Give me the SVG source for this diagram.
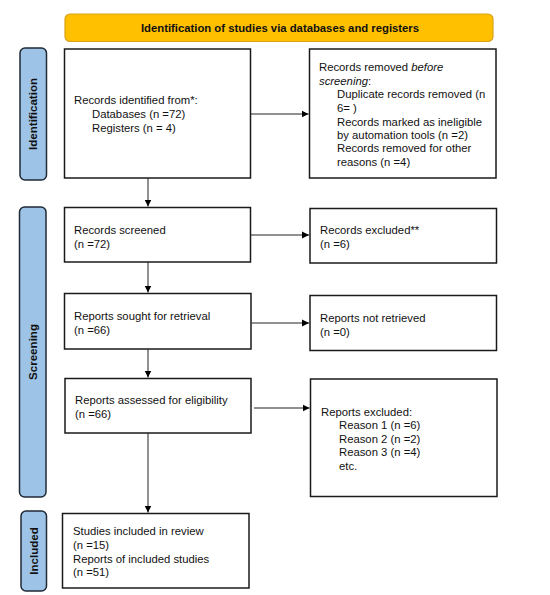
<svg xmlns="http://www.w3.org/2000/svg" width="550" height="595" viewBox="0 0 550 595">
<defs>
<marker id="ah" markerWidth="8" markerHeight="8" refX="7" refY="4" orient="auto" markerUnits="userSpaceOnUse">
<path d="M0,0.5 L7,4 L0,7.5 Z" fill="#000"/>
</marker>
<style>
.box{fill:#fff;stroke:#1a1a1a;stroke-width:1.5}
.side{fill:#9DC3E6;stroke:#1f2a36;stroke-width:1.5}
.t{font-family:"Liberation Sans",Arial,sans-serif;font-size:11.3px;fill:#111}
.sl{font-family:"Liberation Sans",Arial,sans-serif;font-size:11.3px;font-weight:bold;fill:#111}
.sv{font-family:"Liberation Sans",Arial,sans-serif;font-size:11.6px;font-weight:bold;fill:#111}
.c{stroke:#222;stroke-width:1;fill:none;marker-end:url(#ah)}
</style>
</defs>
<rect width="550" height="595" fill="#fff"/>
<g id="banner">
<rect x="65" y="14" width="428" height="27.5" rx="5" fill="#FFC000" stroke="#D9A21A" stroke-width="1.2"/>
<text class="sl" x="280" y="32" text-anchor="middle">Identification of studies via databases and registers</text>
</g>
<g id="label-identification">
<rect class="side" x="20" y="48" width="26.5" height="132" rx="5"/>
<text class="sv" transform="translate(37,114) rotate(-90)" text-anchor="middle">Identification</text>
</g>
<g id="label-screening">
<rect class="side" x="19.5" y="207" width="26.5" height="290" rx="5"/>
<text class="sv" transform="translate(37,352) rotate(-90)" text-anchor="middle">Screening</text>
</g>
<g id="label-included">
<rect class="side" x="21" y="511" width="25.5" height="80" rx="5"/>
<text class="sv" transform="translate(37.5,551) rotate(-90)" text-anchor="middle">Included</text>
</g>
<g id="records-identified">
<rect class="box" x="64.5" y="49" width="186" height="129"/>
<text class="t" x="74" y="104">Records identified from*:</text>
<text class="t" x="92" y="118">Databases (n =72)</text>
<text class="t" x="92" y="132">Registers (n = 4)</text>
</g>
<g id="records-removed">
<rect class="box" x="309.5" y="49" width="186.5" height="129"/>
<text class="t" x="319" y="71">Records removed <tspan font-style="italic">before</tspan></text>
<text class="t" x="319" y="84.5"><tspan font-style="italic">screening</tspan>:</text>
<text class="t" x="337" y="98">Duplicate records removed (n</text>
<text class="t" x="337" y="111.5">6= )</text>
<text class="t" x="337" y="125.5">Records marked as ineligible</text>
<text class="t" x="337" y="139">by automation tools (n =2)</text>
<text class="t" x="337" y="152">Records removed for other</text>
<text class="t" x="337" y="166">reasons (n =4)</text>
</g>
<g id="records-screened">
<rect class="box" x="64.5" y="207.5" width="186" height="54.5"/>
<text class="t" x="74" y="234">Records screened</text>
<text class="t" x="74" y="248">(n =72)</text>
</g>
<g id="records-excluded">
<rect class="box" x="310" y="208.5" width="186.5" height="54.5"/>
<text class="t" x="320" y="234">Records excluded**</text>
<text class="t" x="320" y="248">(n =6)</text>
</g>
<g id="reports-sought">
<rect class="box" x="64.5" y="293.5" width="186.5" height="55.5"/>
<text class="t" x="74" y="320">Reports sought for retrieval</text>
<text class="t" x="74" y="334">(n =66)</text>
</g>
<g id="reports-not-retrieved">
<rect class="box" x="310" y="295.5" width="186.5" height="55"/>
<text class="t" x="320" y="322">Reports not retrieved</text>
<text class="t" x="320" y="336">(n =0)</text>
</g>
<g id="reports-assessed">
<rect class="box" x="65" y="378.5" width="186" height="54.5"/>
<text class="t" x="75" y="404">Reports assessed for eligibility</text>
<text class="t" x="75" y="418">(n =66)</text>
</g>
<g id="reports-excluded">
<rect class="box" x="310.5" y="379" width="186.5" height="117.5"/>
<text class="t" x="321" y="416">Reports excluded:</text>
<text class="t" x="339" y="429">Reason 1 (n =6)</text>
<text class="t" x="339" y="442.5">Reason 2 (n =2)</text>
<text class="t" x="339" y="456">Reason 3 (n =4)</text>
<text class="t" x="339" y="470">etc.</text>
</g>
<g id="studies-included">
<rect class="box" x="62.5" y="513.5" width="186.5" height="74.5"/>
<text class="t" x="73" y="535">Studies included in review</text>
<text class="t" x="73" y="549">(n =15)</text>
<text class="t" x="73" y="562.5">Reports of included studies</text>
<text class="t" x="73" y="576">(n =51)</text>
</g>
<g id="connectors">
<path class="c" d="M251,114 H308.5"/>
<path class="c" d="M148,178 V206.5"/>
<path class="c" d="M251,235 H309"/>
<path class="c" d="M148,262 V292.5"/>
<path class="c" d="M251.5,323 H309"/>
<path class="c" d="M148,349 V377.5"/>
<path class="c" d="M254,408 H309.5"/>
<path class="c" d="M148,433 V512.5"/>
</g>
</svg>
